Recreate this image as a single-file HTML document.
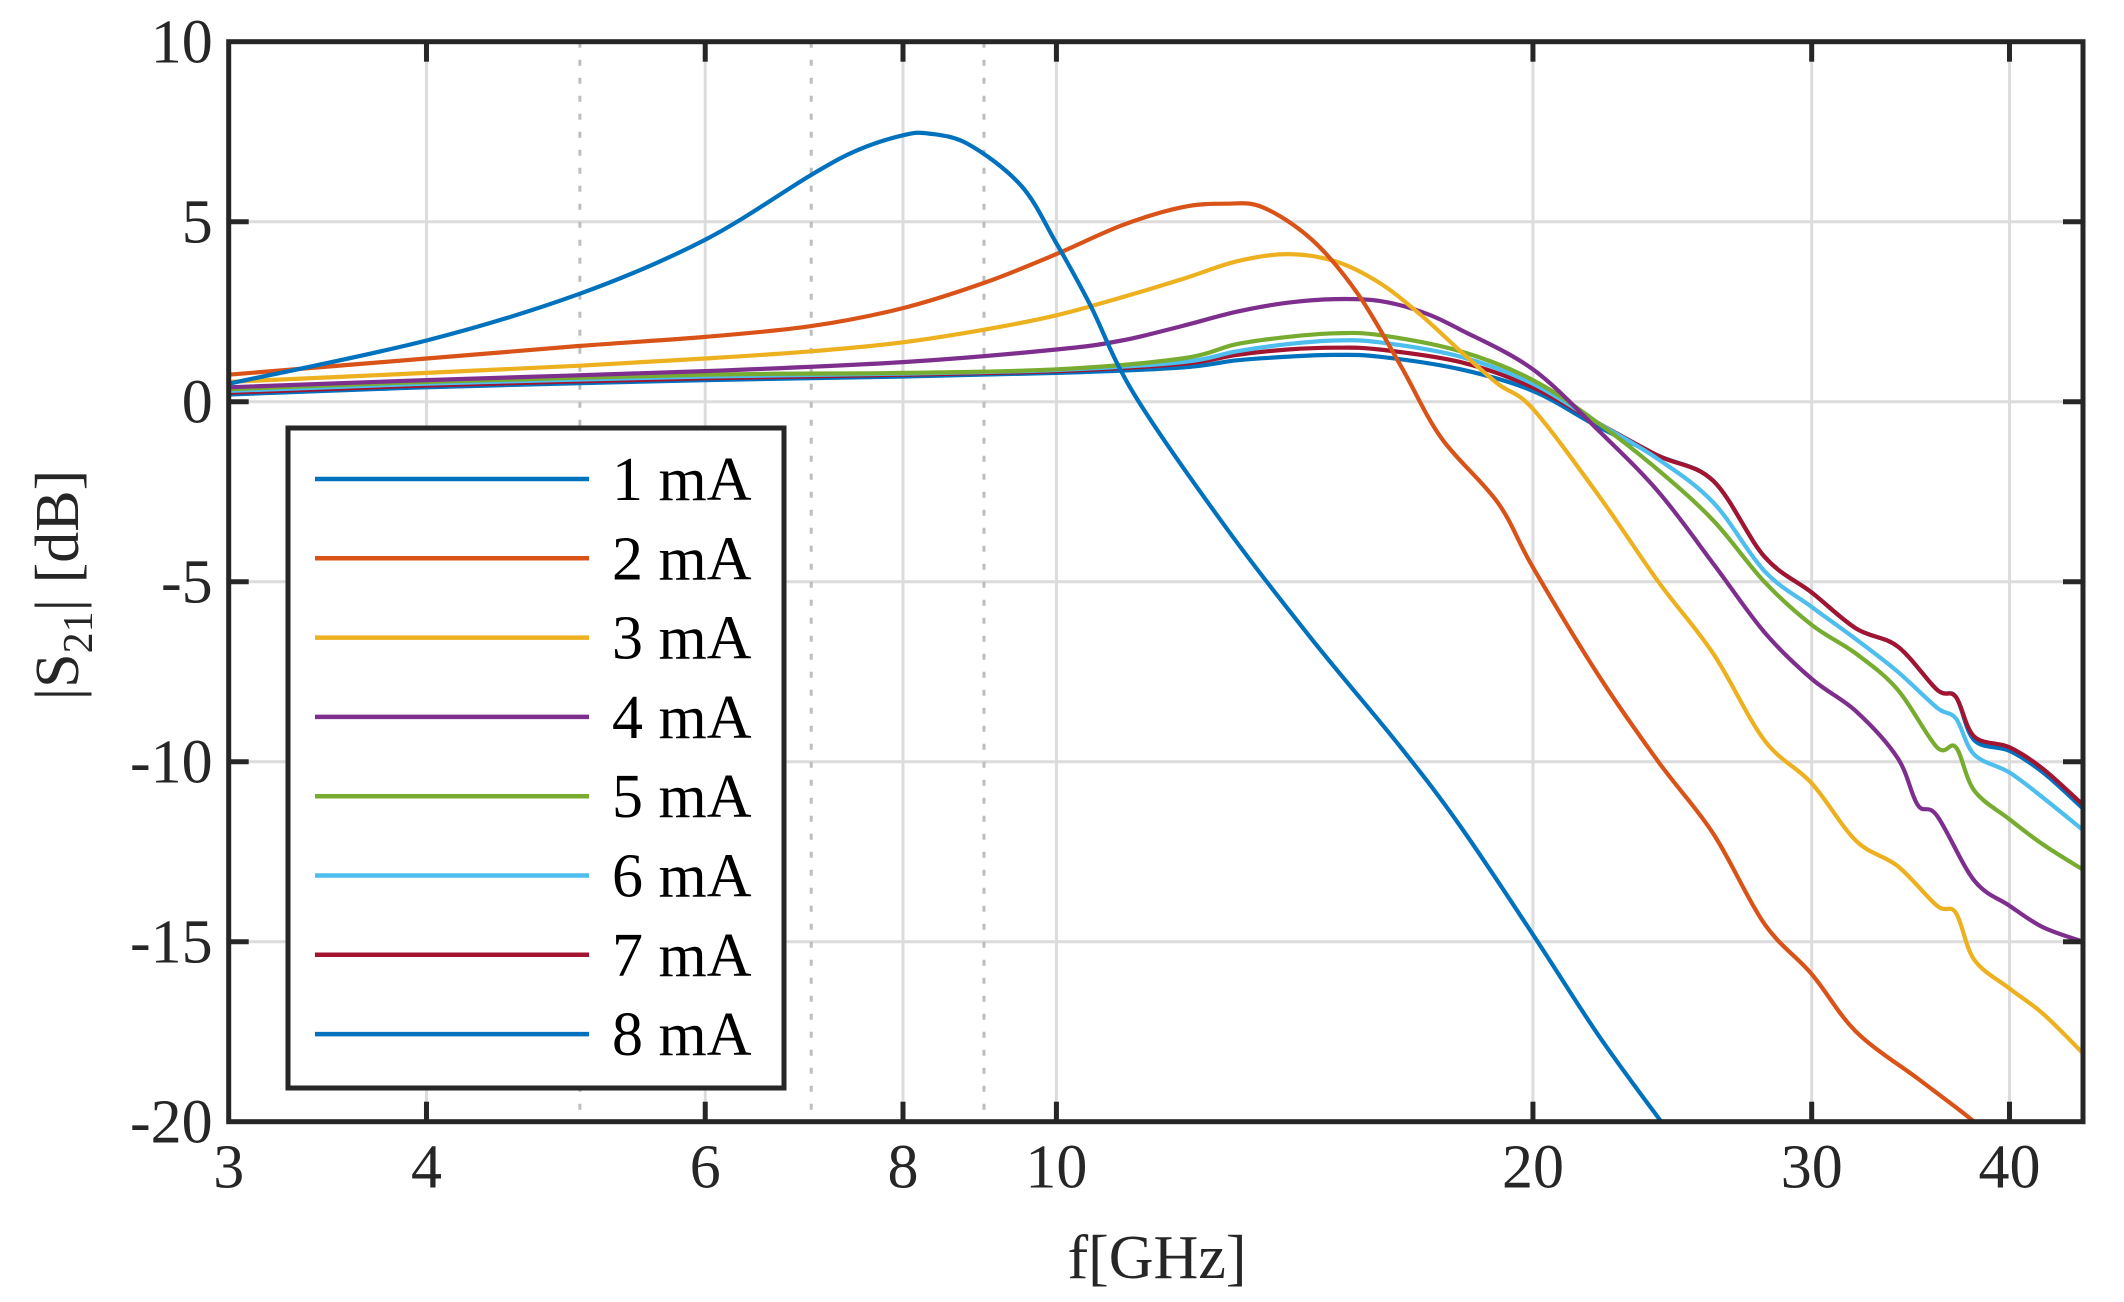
<!DOCTYPE html>
<html><head><meta charset="utf-8"><style>
html,body{margin:0;padding:0;background:#fff;}
svg{display:block;}
svg text{font-family:"Liberation Serif","Times New Roman",serif;}
</style></head><body>
<svg id="s" width="2124" height="1302" viewBox="0 0 2124 1302" xmlns="http://www.w3.org/2000/svg" font-family="Liberation Serif, serif">
<rect width="2124" height="1302" fill="#fff"/>
<g id="grid"></g>
<g id="curves" fill="none" stroke-width="4.2" stroke-linejoin="round"></g>
<g id="axes"></g>
<g id="legend"></g>
</svg>
<script>
const L=228.7,R=2083,T=41.7,B=1121.7,D=1583;
const X=f=>L+D*Math.log10(f/3), Y=v=>T+(10-v)*36;
const ns="http://www.w3.org/2000/svg";
function el(p,t,a,txt){const e=document.createElementNS(ns,t);for(const k in a)e.setAttribute(k,a[k]);if(t==='text')e.setAttribute('font-family','Liberation Serif, serif');if(txt!==undefined)e.textContent=txt;document.getElementById(p).appendChild(e);return e;}
[4,6,8,10,20,30,40].forEach(f=>el('grid','line',{x1:X(f),x2:X(f),y1:T,y2:B,stroke:'#dcdcdc','stroke-width':3}));
[5,0,-5,-10,-15].forEach(v=>el('grid','line',{x1:L,x2:R,y1:Y(v),y2:Y(v),stroke:'#dcdcdc','stroke-width':3}));
[5,7,9].forEach(f=>el('grid','line',{x1:X(f),x2:X(f),y1:T,y2:B,stroke:'#bdbdbd','stroke-width':3,'stroke-dasharray':'6 12'}));
const C=['#0072BD','#D95319','#EDB120','#7E2F8E','#77AC30','#4DBEEE','#A2142F','#0072BD'];
const data=[
[[3,0.5],[4,1.7],[5,3.0],[6,4.5],[7,6.3],[7.5,7.0],[8,7.4],[8.3,7.45],[8.8,7.15],[9.5,6.0],[10,4.4],[10.5,2.7],[11.2,0.2],[12.8,-3.5],[14.5,-6.6],[16.5,-9.6],[18,-11.8],[20,-14.8],[22,-17.6],[24.1,-20]],
[[3,0.75],[4,1.2],[5,1.55],[6,1.8],[7,2.1],[8,2.6],[9,3.3],[10,4.1],[11,4.9],[12,5.4],[12.8,5.5],[13.5,5.4],[14.5,4.5],[15.5,3],[16.5,1],[17.5,-1],[19,-2.8],[20,-4.6],[22,-7.6],[24,-10],[26,-12],[28,-14.5],[30,-15.9],[32,-17.5],[35,-18.8],[37,-19.6],[38,-20]],
[[3,0.55],[4,0.8],[5,1.0],[6,1.2],[7,1.4],[8,1.65],[9,2.0],[10,2.4],[11,2.9],[12,3.4],[13,3.9],[14,4.1],[15,3.9],[16,3.3],[17,2.4],[18,1.4],[19,0.5],[20,-0.2],[22,-2.6],[24,-5],[26,-7],[28,-9.4],[30,-10.6],[32,-12.2],[34,-12.9],[36,-14],[37,-14.2],[38,-15.5],[40,-16.3],[42,-17],[44.7,-18.1]],
[[3,0.4],[4,0.6],[6,0.85],[8,1.1],[10,1.45],[11,1.7],[12,2.1],[13,2.5],[14,2.75],[15,2.85],[16,2.8],[17,2.5],[18,2.0],[20,0.9],[22,-0.8],[24,-2.5],[26,-4.5],[28,-6.4],[30,-7.7],[32,-8.6],[34,-9.9],[35,-11.2],[36,-11.5],[38,-13.3],[40,-14],[42,-14.6],[44.7,-15]],
[[3,0.35],[4,0.55],[6,0.75],[8,0.8],[10,0.9],[12,1.2],[13,1.6],[14,1.8],[15,1.9],[16,1.85],[18,1.4],[20,0.6],[22,-0.6],[24,-1.9],[26,-3.3],[28,-5],[30,-6.2],[32,-7],[34,-8],[36,-9.6],[37,-9.6],[38,-10.8],[40,-11.6],[42,-12.3],[44.7,-13]],
[[3,0.3],[4,0.5],[6,0.7],[8,0.78],[10,0.88],[12,1.1],[13,1.4],[14,1.6],[15,1.7],[16,1.65],[18,1.25],[20,0.5],[22,-0.6],[24,-1.6],[26,-2.8],[28,-4.7],[30,-5.7],[32,-6.6],[34,-7.5],[36,-8.5],[37,-8.8],[38,-9.8],[40,-10.3],[42,-11],[44.7,-11.9]],
[[3,0.25],[4,0.45],[6,0.65],[8,0.75],[10,0.85],[12,1.05],[13,1.3],[14,1.45],[15,1.5],[16,1.45],[18,1.1],[20,0.4],[22,-0.6],[24,-1.5],[26,-2.2],[28,-4.3],[30,-5.3],[32,-6.3],[34,-6.8],[36,-8],[37,-8.2],[38,-9.3],[40,-9.6],[42,-10.2],[44.7,-11.2]],
[[3,0.2],[4,0.4],[6,0.6],[8,0.7],[10,0.8],[12,0.95],[13,1.15],[14,1.25],[15,1.3],[16,1.25],[18,0.9],[20,0.3],[22,-0.7],[24,-1.5],[26,-2.2],[28,-4.3],[30,-5.3],[32,-6.3],[34,-6.8],[36,-8],[37,-8.2],[38,-9.4],[40,-9.7],[42,-10.3],[44.7,-11.3]]
];
function path(pts){const p=pts.map(([f,v])=>[Math.min(X(f),R),Y(v)]);let d='M'+p[0][0].toFixed(1)+','+p[0][1].toFixed(1);
for(let i=0;i<p.length-1;i++){const p0=p[i-1]||p[i],p1=p[i],p2=p[i+1],p3=p[i+2]||p2;
const c1=[p1[0]+(p2[0]-p0[0])/6,p1[1]+(p2[1]-p0[1])/6],c2=[p2[0]-(p3[0]-p1[0])/6,p2[1]-(p3[1]-p1[1])/6];
d+=`C${c1[0].toFixed(1)},${c1[1].toFixed(1)} ${c2[0].toFixed(1)},${c2[1].toFixed(1)} ${p2[0].toFixed(1)},${p2[1].toFixed(1)}`;}return d;}
for(let i=7;i>=0;i--)el('curves','path',{d:path(data[i]),stroke:C[i]});
el('axes','rect',{x:L,y:T,width:R-L,height:B-T,fill:'none',stroke:'#262626','stroke-width':5});
[4,6,8,10,20,30,40].forEach(f=>{el('axes','line',{x1:X(f),x2:X(f),y1:B,y2:B-20,stroke:'#262626','stroke-width':5});el('axes','line',{x1:X(f),x2:X(f),y1:T,y2:T+20,stroke:'#262626','stroke-width':5});});
[5,0,-5,-10,-15].forEach(v=>{el('axes','line',{x1:L,x2:L+20,y1:Y(v),y2:Y(v),stroke:'#262626','stroke-width':5});el('axes','line',{x1:R,x2:R-20,y1:Y(v),y2:Y(v),stroke:'#262626','stroke-width':5});});
[3,4,6,8,10,20,30,40].forEach(f=>el('axes','text',{x:X(f),y:B+66,'text-anchor':'middle','font-size':62,fill:'#262626'},String(f)));
[10,5,0,-5,-10,-15,-20].forEach(v=>el('axes','text',{x:L-16,y:Y(v)+21,'text-anchor':'end','font-size':62,fill:'#262626'},String(v)));
el('axes','text',{x:1157,y:1278,'text-anchor':'middle','font-size':62,fill:'#262626'},'f[GHz]');
const yl=el('axes','text',{x:0,y:0,'text-anchor':'middle','font-size':62,fill:'#262626',transform:'translate(78,585) rotate(-90)'});
yl.innerHTML='|S<tspan font-size="42" dy="14">21</tspan><tspan dy="-14">| [dB]</tspan>';
el('legend','rect',{x:288,y:428,width:496,height:660,fill:'#fff',stroke:'#262626','stroke-width':5});
for(let i=0;i<8;i++){const y=479+i*79.3;el('legend','line',{x1:315,x2:589,y1:y,y2:y,stroke:C[i],'stroke-width':4.5});
el('legend','text',{x:612,y:y+21,'font-size':62,fill:'#000'},(i+1)+' mA');}
</script>
</body></html>
